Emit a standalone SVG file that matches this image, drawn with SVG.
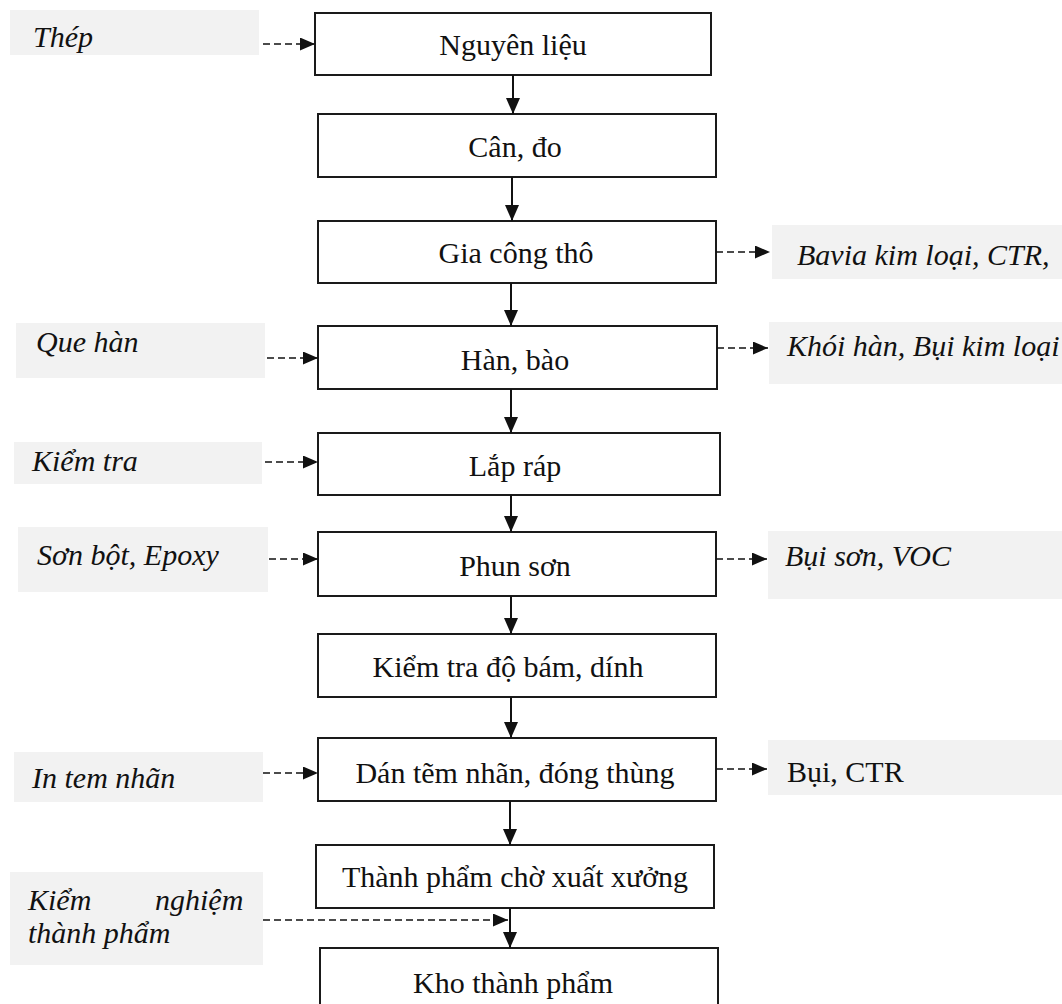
<svg xmlns="http://www.w3.org/2000/svg" width="1062" height="1004" viewBox="0 0 1062 1004">
  <style>
    .step rect { fill: #ffffff; stroke: #1a1a1a; stroke-width: 2; }
    .step text { font-family: "Liberation Serif", "Times New Roman", serif; font-size: 30px; fill: #111; text-anchor: middle; }
    .side rect { fill: #f2f2f2; stroke: none; }
    .side text { font-family: "Liberation Serif", "Times New Roman", serif; font-size: 30px; fill: #111; font-style: italic; }
    .side text.upright { font-style: normal; }
    .flow { stroke: #111; stroke-width: 2; fill: none; marker-end: url(#headSolid); }
    .aux { stroke: #111; stroke-width: 1.6; fill: none; stroke-dasharray: 7 4; marker-end: url(#headDash); }
  </style>
  <defs>
    <marker id="headSolid" markerUnits="userSpaceOnUse" markerWidth="16" markerHeight="14" refX="16" refY="7" orient="auto">
      <path d="M0,0 L16,7 L0,14 z" fill="#111"/>
    </marker>
    <marker id="headDash" markerUnits="userSpaceOnUse" markerWidth="15" markerHeight="13" refX="15" refY="6.5" orient="auto">
      <path d="M0,0 L15,6.5 L0,13 z" fill="#111"/>
    </marker>
  </defs>
  <rect width="1062" height="1004" fill="#ffffff"/>

  <!-- main process column -->
  <g id="n-nguyen-lieu" class="step"><rect x="315" y="13" width="396" height="62"/><text x="513" y="55">Nguyên liệu</text></g>
  <g id="n-can-do" class="step"><rect x="318" y="114" width="398" height="63"/><text x="515" y="157">Cân, đo</text></g>
  <g id="n-gia-cong" class="step"><rect x="318" y="221" width="398" height="62"/><text x="516" y="263">Gia công thô</text></g>
  <g id="n-han-bao" class="step"><rect x="318" y="326" width="399" height="63"/><text x="515" y="370">Hàn, bào</text></g>
  <g id="n-lap-rap" class="step"><rect x="318" y="433" width="402" height="62"/><text x="515" y="476">Lắp ráp</text></g>
  <g id="n-phun-son" class="step"><rect x="318" y="532" width="398" height="64"/><text x="515" y="576">Phun sơn</text></g>
  <g id="n-kiem-tra-bam" class="step"><rect x="318" y="634" width="398" height="63"/><text x="508" y="677">Kiểm tra độ bám, dính</text></g>
  <g id="n-dan-tem" class="step"><rect x="318" y="738" width="398" height="63"/><text x="515" y="783">Dán tẽm nhãn, đóng thùng</text></g>
  <g id="n-thanh-pham" class="step"><rect x="316" y="845" width="398" height="63"/><text x="515" y="887">Thành phẩm chờ xuất xưởng</text></g>
  <g id="n-kho" class="step"><rect x="320" y="948" width="398" height="70"/><text x="513" y="993">Kho thành phẩm</text></g>

  <!-- inputs (left) -->
  <g id="in-thep" class="side"><rect x="10" y="10" width="249" height="45"/><text x="33" y="47">Thép</text></g>
  <g id="in-que-han" class="side"><rect x="16" y="323" width="249" height="55"/><text x="36" y="352">Que hàn</text></g>
  <g id="in-kiem-tra" class="side"><rect x="14" y="442" width="248" height="42"/><text x="32" y="471">Kiểm tra</text></g>
  <g id="in-son-bot" class="side"><rect x="18" y="527" width="250" height="65"/><text x="37" y="565">Sơn bột, Epoxy</text></g>
  <g id="in-tem-nhan" class="side"><rect x="14" y="752" width="249" height="50"/><text x="32" y="788">In tem nhãn</text></g>
  <g id="in-kiem-nghiem" class="side"><rect x="10" y="872" width="253" height="93"/><text><tspan x="28" y="910">Kiểm</tspan><tspan x="155" y="910">nghiệm</tspan><tspan x="28" y="943">thành phẩm</tspan></text></g>

  <!-- outputs (right) -->
  <g id="out-bavia" class="side"><rect x="772" y="225" width="290" height="54"/><text x="797" y="265">Bavia kim loại, CTR,</text></g>
  <g id="out-khoi-han" class="side"><rect x="769" y="322" width="293" height="62"/><text x="787" y="356">Khói hàn, Bụi kim loại</text></g>
  <g id="out-bui-son" class="side"><rect x="768" y="531" width="294" height="68"/><text x="785" y="566">Bụi sơn, VOC</text></g>
  <g id="out-bui-ctr" class="side"><rect x="768" y="740" width="294" height="55"/><text class="upright" x="787" y="782">Bụi, CTR</text></g>

  <!-- connectors -->
  <g id="connectors">
    <line class="flow" x1="513" y1="75" x2="513" y2="114"/>
    <line class="flow" x1="512" y1="177" x2="512" y2="221"/>
    <line class="flow" x1="511" y1="283" x2="511" y2="326"/>
    <line class="flow" x1="511" y1="389" x2="511" y2="433"/>
    <line class="flow" x1="511" y1="495" x2="511" y2="532"/>
    <line class="flow" x1="511" y1="596" x2="511" y2="634"/>
    <line class="flow" x1="511" y1="697" x2="511" y2="738"/>
    <line class="flow" x1="510" y1="801" x2="510" y2="845"/>
    <line class="flow" x1="510" y1="908" x2="510" y2="948"/>

    <line class="aux" x1="263" y1="44" x2="315" y2="44"/>
    <line class="aux" x1="267" y1="358" x2="318" y2="358"/>
    <line class="aux" x1="265" y1="462" x2="318" y2="462"/>
    <line class="aux" x1="269" y1="559" x2="318" y2="559"/>
    <line class="aux" x1="263" y1="773" x2="318" y2="773"/>
    <line class="aux" x1="263" y1="920" x2="508" y2="920"/>

    <line class="aux" x1="716" y1="252" x2="770" y2="252"/>
    <line class="aux" x1="717" y1="348" x2="768" y2="348"/>
    <line class="aux" x1="716" y1="559" x2="767" y2="559"/>
    <line class="aux" x1="716" y1="769" x2="767" y2="769"/>
  </g>
</svg>
